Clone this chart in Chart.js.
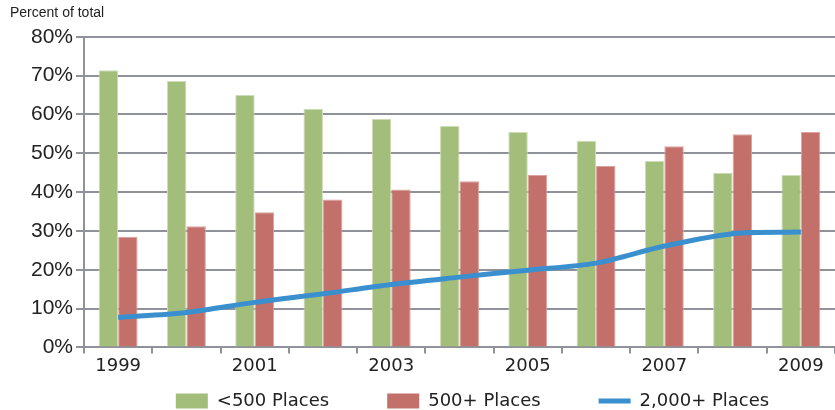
<!DOCTYPE html>
<html>
<head>
<meta charset="utf-8">
<script src="https://cdn.jsdelivr.net/npm/chart.js@4.4.0/dist/chart.umd.min.js"></script>
<style>
html,body{margin:0;padding:0;background:#fff;}
#wrap{width:835px;height:410px;position:relative;}
</style>
</head>
<body>
<div id="wrap"><canvas id="c" width="835" height="410"></canvas></div>
<script>
const years = ['1999','2000','2001','2002','2003','2004','2005','2006','2007','2008','2009'];
const under500 = [71.4, 68.6, 65.0, 61.5, 58.9, 57.0, 55.5, 53.2, 48.0, 45.0, 44.4];
const over500 = [28.5, 31.2, 34.8, 38.1, 40.7, 42.8, 44.4, 46.7, 51.8, 54.9, 55.5];
const over2000 = [7.7, 9.0, 11.6, 13.8, 16.2, 18.1, 19.9, 21.7, 26.1, 29.3, 29.7];
const seriesNames = ['<500 Places', '500+ Places', '2,000+ Places'];
const yTicks = [0, 10, 20, 30, 40, 50, 60, 70, 80];

const GREEN = '#a3be7a', RED = '#c3706a', BLUE = '#3a8fcf', GRID = '#8f9399';
const LEGEND_GAP = 58;       // horizontal spacing between legend items
const LEGEND_HEIGHT = 31;    // space reserved below the x axis
const LEGEND_ITEM_Y = 392;   // top of legend items
const LEGEND_SHIFT_X = 13;

// Keep wide horizontal spacing of legend items without a tall vertical gap
const legendTweak = {
  id: 'legendTweak',
  beforeLayout(chart) {
    const lg = chart.legend;
    if (lg && !lg._tweaked) {
      const orig = lg.fit.bind(lg);
      lg.fit = function () { orig(); this.height = LEGEND_HEIGHT; };
      lg._tweaked = true;
    }
  },
  afterLayout(chart) {
    const lg = chart.legend;
    if (!lg) return;
    lg.top = LEGEND_ITEM_Y - LEGEND_GAP;
    lg.bottom = chart.height;
    lg.height = lg.bottom - lg.top;
    lg.left += LEGEND_SHIFT_X;
    lg.right += LEGEND_SHIFT_X;
  }
};

new Chart(document.getElementById('c'), {
  type: 'bar',
  data: {
    labels: years,
    datasets: [
      {type: 'line', label: seriesNames[2], data: over2000, borderColor: BLUE, backgroundColor: BLUE,
       borderWidth: 5, pointRadius: 0, tension: 0.3, order: 0},
      {label: seriesNames[0], data: under500, backgroundColor: GREEN, borderColor: '#cfdcb8',
       borderWidth: {top: 1, left: 1, right: 1, bottom: 0}, categoryPercentage: 0.57, barPercentage: 1, order: 1},
      {label: seriesNames[1], data: over500, backgroundColor: RED, borderColor: '#dca39e',
       borderWidth: {top: 1, left: 1, right: 1, bottom: 0}, categoryPercentage: 0.57, barPercentage: 1, order: 1}
    ]
  },
  plugins: [legendTweak],
  options: {
    responsive: false,
    animation: false,
    devicePixelRatio: 1,
    layout: {padding: {left: 10, right: 0, top: 0, bottom: 0}},
    plugins: {
      title: {display: true, text: 'Percent of total', align: 'start',
        color: '#222', font: {family: '"Liberation Sans", Arial, sans-serif', size: 14, weight: 'normal'},
        padding: {top: 5, bottom: 15}},
      tooltip: {enabled: false},
      legend: {
        position: 'bottom',
        fullSize: false,
        labels: {
          usePointStyle: true,
          pointStyleWidth: 32,
          boxHeight: 15,
          padding: LEGEND_GAP,
          color: '#222',
          font: {family: '"DejaVu Sans", sans-serif', size: 18},
          generateLabels: (chart) => {
            const ds = chart.data.datasets;
            const order = [1, 2, 0];
            return order.map(i => ({
              text: ds[i].label,
              fillStyle: ds[i].backgroundColor,
              strokeStyle: i === 0 ? BLUE : ds[i].backgroundColor,
              lineWidth: i === 0 ? 5 : 0,
              pointStyle: i === 0 ? 'line' : 'rect',
              fontColor: '#222',
              datasetIndex: i,
              hidden: false
            }));
          }
        }
      }
    },
    scales: {
      x: {
        offset: true,
        grid: {offset: true, drawOnChartArea: false, drawTicks: true, tickLength: 6, color: GRID, lineWidth: 2},
        border: {display: true, color: GRID, width: 2},
        ticks: {
          autoSkip: false, maxRotation: 0, padding: 2, color: '#222',
          font: {family: '"DejaVu Sans", sans-serif', size: 18},
          callback: function(v, i) { return i % 2 === 0 ? this.getLabelForValue(v) : ''; }
        }
      },
      y: {
        min: yTicks[0], max: yTicks[yTicks.length - 1],
        afterBuildTicks: (s) => { s.ticks = yTicks.map(v => ({value: v})); },
        afterFit: (s) => { s.width = 74; },
        grid: {color: GRID, lineWidth: 2, tickLength: 8},
        border: {display: true, color: GRID, width: 2},
        ticks: {
          padding: 3, color: '#222',
          font: {family: '"Liberation Sans", Arial, sans-serif', size: 21},
          callback: (v) => v + '%'
        }
      }
    }
  }
});
</script>
</body>
</html>
